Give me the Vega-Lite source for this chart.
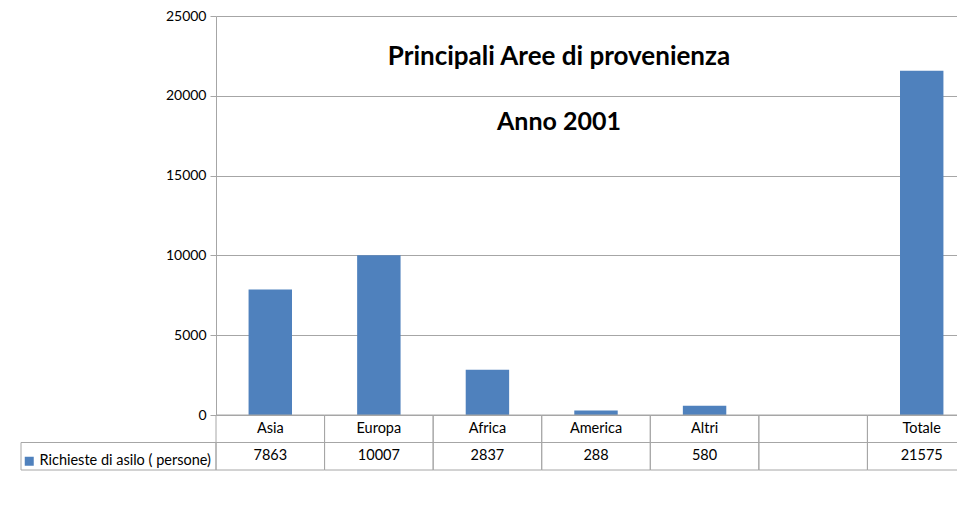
{
  "$schema": "https://vega.github.io/schema/vega-lite/v6.json",
  "background": "white",
  "padding": {"left": 20, "top": 9, "right": 0, "bottom": 0},
  "config": {"font": "Lato", "view": {"stroke": null}},
  "datasets": {
    "d": [
      {"area": "Asia", "richieste": 7863},
      {"area": "Europa", "richieste": 10007},
      {"area": "Africa", "richieste": 2837},
      {"area": "America", "richieste": 288},
      {"area": "Altri", "richieste": 580},
      {"area": " ", "richieste": null},
      {"area": "Totale", "richieste": 21575}
    ]
  },
  "columns": 2,
  "spacing": 0,
  "bounds": "flush",
  "align": "each",
  "concat": [
    {
      "width": 195,
      "height": 399,
      "data": {"values": []},
      "mark": "text",
      "encoding": {}
    },
    {
      "width": 760,
      "height": 399,
      "data": {"name": "d"},
      "title": {
        "text": "Principali Aree di provenienza",
        "subtitle": "Anno 2001",
        "font": "Lato",
        "subtitleFont": "Lato",
        "fontSize": 26,
        "subtitleFontSize": 25,
        "fontWeight": "bold",
        "subtitleFontWeight": "bold",
        "color": "black",
        "subtitleColor": "black",
        "anchor": "middle",
        "dx": -37,
        "offset": -126,
        "subtitlePadding": 40
      },
      "mark": {"type": "bar"},
      "encoding": {
        "x": {
          "field": "area",
          "type": "nominal",
          "sort": null,
          "scale": {"domain": ["Asia", "Europa", "Africa", "America", "Altri", " ", "Totale"], "paddingInner": 0.6, "paddingOuter": 0.3},
          "axis": null
        },
        "y": {
          "field": "richieste",
          "type": "quantitative",
          "scale": {"domain": [0, 25000], "nice": false},
          "axis": {
            "values": [0, 5000, 10000, 15000, 20000, 25000],
            "title": null,
            "labelFontSize": 14,
            "labelColor": "black",
            "tickColor": "#a6a6a6",
            "tickSize": 6,
            "domainColor": "#a6a6a6",
            "gridColor": "#a6a6a6",
            "gridOpacity": 1,
            "labelPadding": 4,
            "labelFlush": false,
            "format": "d"
          }
        },
        "color": {
          "datum": "Richieste di asilo ( persone)",
          "type": "nominal",
          "scale": {"range": ["#4f81bd"]},
          "legend": {
            "orient": "none",
            "legendX": 1,
            "legendY": 438,
            "title": null,
            "symbolType": "square",
            "symbolSize": 81,
            "symbolStrokeWidth": 0,
            "labelOffset": 3,
            "labelLimit": 300,
            "labelFontSize": 14.5,
            "labelColor": "black",
            "labelFont": "Lato"
          }
        }
      }
    },
    {
      "width": 195,
      "height": 55,
      "data": {"values": [{}]},
      "mark": {"type": "rect", "filled": false, "stroke": "#a6a6a6", "strokeWidth": 1},
      "encoding": {
        "y": {"datum": "v", "type": "nominal", "scale": {"domain": ["h", "v"], "paddingInner": 0, "paddingOuter": 0}, "axis": null}
      }
    },
    {
      "width": 760,
      "height": 55,
      "data": {"name": "d"},
      "encoding": {
        "x": {
          "field": "area",
          "type": "nominal",
          "sort": null,
          "scale": {"domain": ["Asia", "Europa", "Africa", "America", "Altri", " ", "Totale"], "paddingInner": 0, "paddingOuter": 0},
          "axis": null
        }
      },
      "layer": [
        {
          "mark": {"type": "rect", "filled": false, "stroke": "#a6a6a6", "strokeWidth": 1},
          "encoding": {"y": {"datum": "h", "type": "nominal", "scale": {"domain": ["h", "v"], "paddingInner": 0, "paddingOuter": 0}, "axis": null}}
        },
        {
          "mark": {"type": "rect", "filled": false, "stroke": "#a6a6a6", "strokeWidth": 1},
          "encoding": {"y": {"datum": "v", "type": "nominal"}}
        },
        {
          "mark": {"type": "text", "fontSize": 14.5, "color": "black", "font": "Lato"},
          "encoding": {"y": {"datum": "h", "type": "nominal"}, "text": {"field": "area", "type": "nominal"}}
        },
        {
          "transform": [{"filter": "datum.richieste != null"}],
          "mark": {"type": "text", "fontSize": 14.5, "color": "black", "font": "Lato"},
          "encoding": {"y": {"datum": "v", "type": "nominal"}, "text": {"field": "richieste", "type": "quantitative", "format": "d"}}
        }
      ]
    }
  ]
}
